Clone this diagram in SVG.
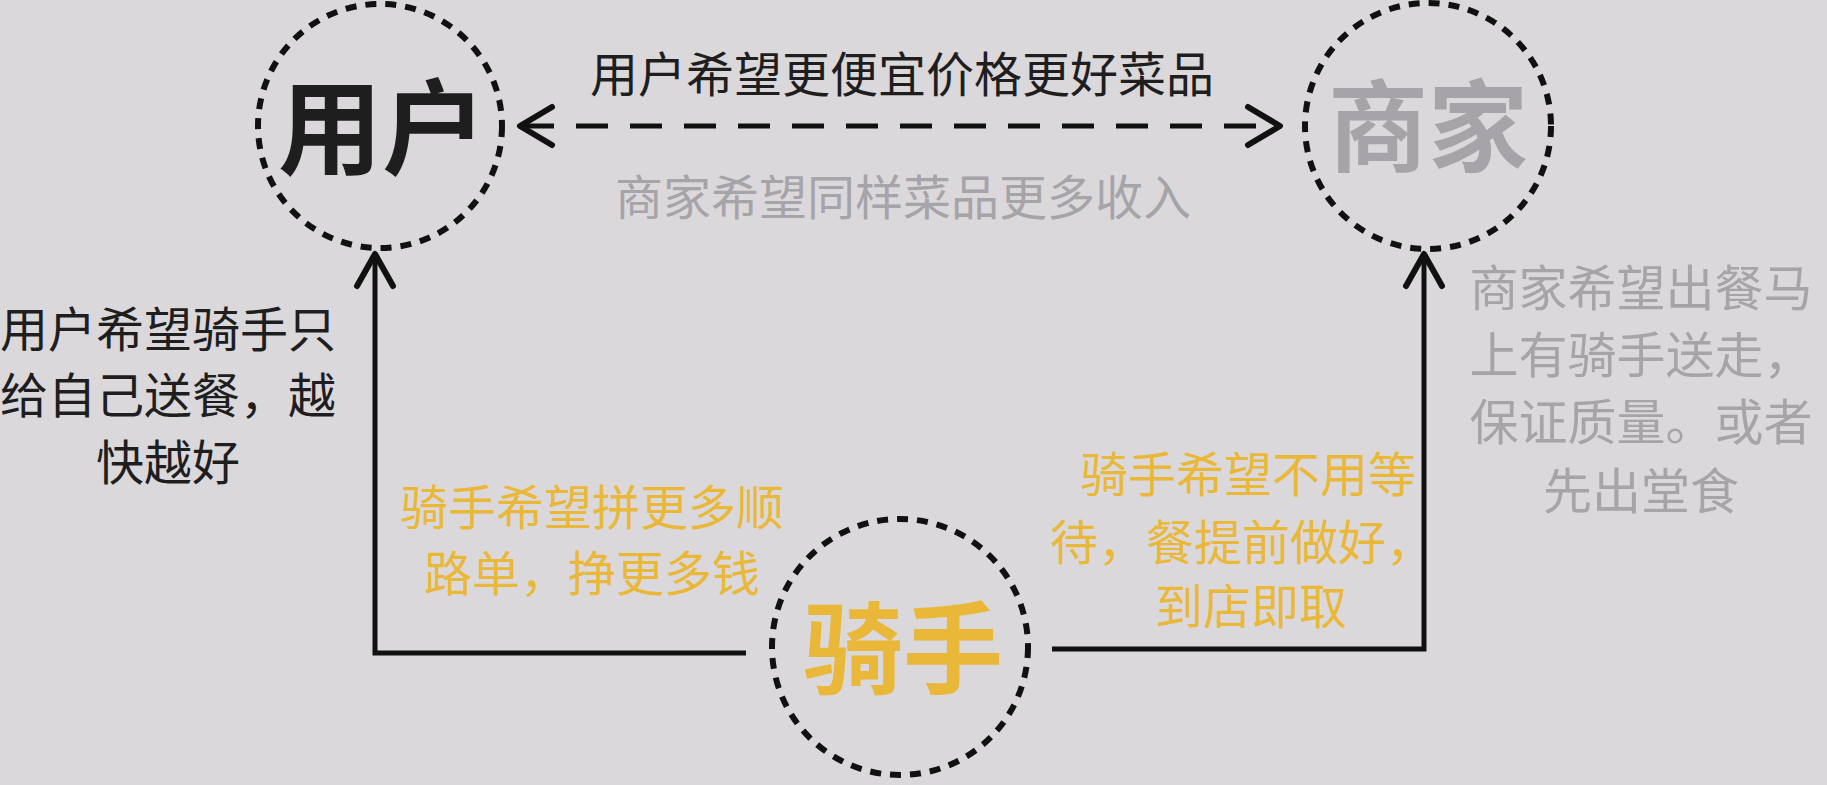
<svg xmlns="http://www.w3.org/2000/svg" width="1827" height="785" viewBox="0 0 1827 785">
<style>
.bg{fill:#dbd8dc}
.ring{fill:none;stroke:#111;stroke-width:6;stroke-dasharray:11 9}
.big{font-family:"Noto Sans CJK SC","Noto Sans",sans-serif;font-weight:700;font-size:100px;text-anchor:middle}
.lbl{font-family:"Noto Sans CJK SC","Noto Sans",sans-serif;font-size:48px;text-anchor:middle}
.dark{fill:#1e1e1e}
.gray{fill:#a6a4a8}
.gold{fill:#e9b838}
.line{fill:none;stroke:#111;stroke-width:5}
.head{fill:none;stroke:#111;stroke-width:6;stroke-linecap:round;stroke-linejoin:round}
</style>
<rect class="bg" x="0" y="0" width="1827" height="785"/>
<g id="connectors">
  <line class="line" x1="522" y1="126" x2="1278" y2="126" stroke-dasharray="32 22" stroke-width="6"/>
  <path class="head" d="M552,107 L520,126 L552,145"/>
  <path class="head" d="M1248,107 L1280,126 L1248,145"/>
  <path class="line" d="M746,653 L375,653 L375,258"/>
  <path class="head" d="M357,286 L375,254 L393,286"/>
  <path class="line" d="M1052,649 L1424,649 L1424,258"/>
  <path class="head" d="M1406,286 L1424,254 L1442,286"/>
</g>
<g id="node-user">
  <circle class="ring" cx="380" cy="126" r="122"/>
  <text class="big dark" x="382" y="167" style="font-size:104px">用户</text>
</g>
<g id="node-merchant">
  <circle class="ring" cx="1428" cy="126" r="123"/>
  <text class="big gray" x="1428" y="164" style="font-size:100px">商家</text>
</g>
<g id="node-rider">
  <circle class="ring" cx="900" cy="647" r="128"/>
  <text class="big gold" x="903" y="686">骑手</text>
</g>
<g id="labels">
  <text class="lbl dark" x="902" y="92">用户希望更便宜价格更好菜品</text>
  <text class="lbl gray" x="903" y="215">商家希望同样菜品更多收入</text>
  <text class="lbl dark" x="168" y="347">用户希望骑手只</text>
  <text class="lbl dark" x="168" y="413">给自己送餐，越</text>
  <text class="lbl dark" x="168" y="480">快越好</text>
  <text class="lbl gray" x="1641" y="306" style="font-size:49px">商家希望出餐马</text>
  <text class="lbl gray" x="1641" y="373" style="font-size:49px">上有骑手送走，</text>
  <text class="lbl gray" x="1641" y="440" style="font-size:49px">保证质量。或者</text>
  <text class="lbl gray" x="1641" y="509" style="font-size:49px">先出堂食</text>
  <text class="lbl gold" x="592" y="525">骑手希望拼更多顺</text>
  <text class="lbl gold" x="592" y="591">路单，挣更多钱</text>
  <text class="lbl gold" x="1248" y="492">骑手希望不用等</text>
  <text class="lbl gold" x="1242" y="560">待，餐提前做好，</text>
  <text class="lbl gold" x="1251" y="624">到店即取</text>
</g>
</svg>
